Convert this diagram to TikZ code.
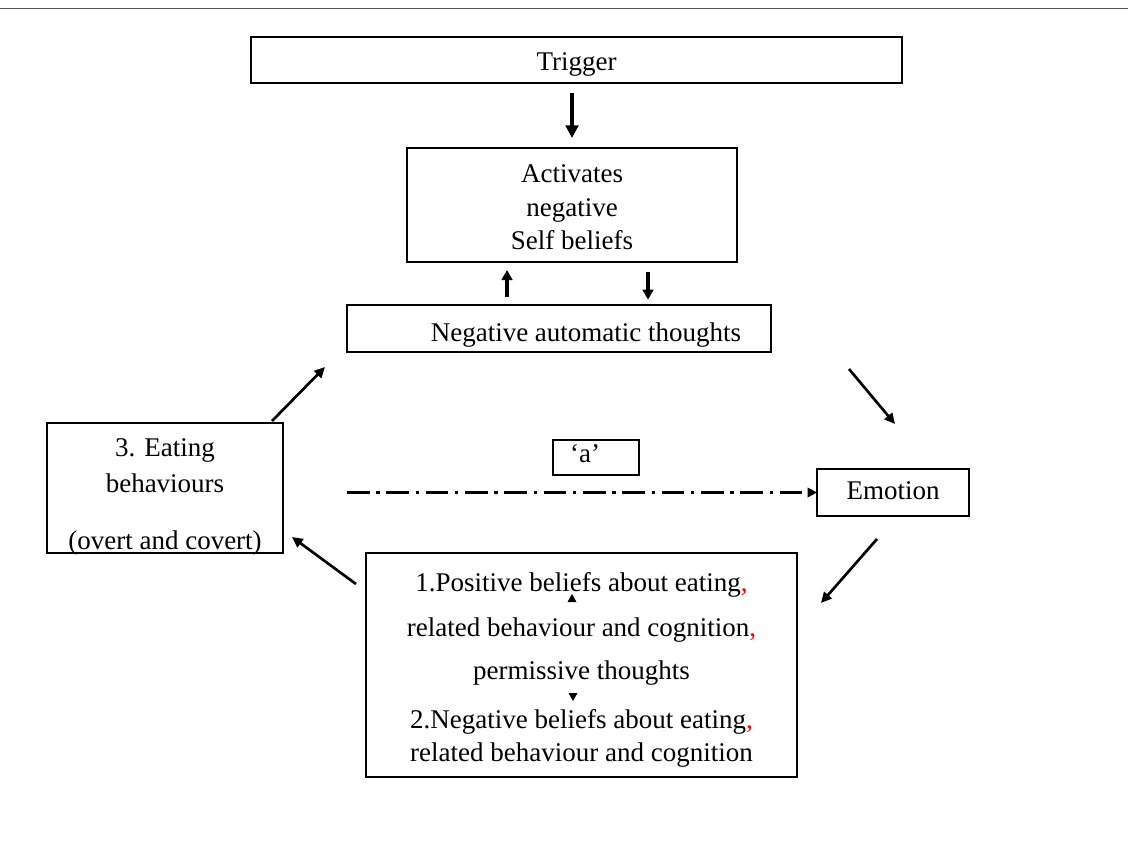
\documentclass[tikz,border=0pt]{standalone}
\usepackage{fontspec}
\setmainfont{Liberation Serif}
\usetikzlibrary{arrows.meta,calc}

% lines of a box, set lower by #1 without changing the box size
\newcommand\boxlines[2]{\raisebox{-#1}[\height][\depth]{\begin{tabular}{@{}c@{}}#2\end{tabular}}}

\begin{document}
\begin{tikzpicture}[x=0.75pt,y=0.75pt,yscale=-1,xscale=1,
  box/.style={draw,line width=0.9pt,inner sep=0pt,outer sep=0pt,
    font=\fontsize{20.25pt}{25pt}\selectfont},
  bigarr/.style={line width=2.6pt,-{Triangle[length=9.5pt,width=9.5pt]}},
  midarr/.style={line width=2.4pt,-{Triangle[length=7.5pt,width=8pt]}},
  diagarr/.style={line width=2pt,-{Triangle[length=8pt,width=7.5pt]}},
  dashdotarr/.style={line width=2.6pt,dash pattern={on 17pt off 5pt on 2.5pt off 5pt},
    -{Triangle[length=7pt,width=7pt]}}]
\useasboundingbox (0,0) rectangle (1128,851);

%Straight Lines: top rule
\draw [color={rgb,255:red,85;green,85;blue,85},line width=1.4pt] (0,8.5) -- (1128,8.5) ;

% Text Node
\node (trig) at (576.5,60) [box,minimum width=488.25pt,minimum height=34.5pt] {\boxlines{2.5pt}{Trigger}};
% Text Node
\node (act) at (572,205) [box,minimum width=247.5pt,minimum height=85.5pt] {\boxlines{3.4pt}{Activates\\negative\\Self beliefs}};
% Text Node
\node (nat) at (559,328.5) [box,minimum width=318pt,minimum height=35.25pt] {\boxlines{4.5pt}{\hspace*{40.5pt}Negative automatic thoughts}};
% Text Node
\node (eat) at (165,488) [box,minimum width=177pt,minimum height=97.5pt] {\boxlines{6pt}{3. Eating\\[2pt]behaviours\\[18pt](overt and covert)}};
% Text Node
\node (emo) at (893,492.5) [box,minimum width=114pt,minimum height=35.25pt] {\boxlines{0.5pt}{Emotion}};
% Text Node
\node (qa) at (596,457.5) [box,minimum width=64.5pt,minimum height=26.25pt] {\boxlines{-1.2pt}{`a'\hspace*{16.5pt}}};
% Text Node
\node (pos) at (581.5,665) [box,minimum width=323.25pt,minimum height=168pt] {\boxlines{3.75pt}{1.Positive beliefs about eating\textcolor{red}{,}\\[8.5pt]related behaviour and cognition\textcolor{red}{,}\\[7pt]permissive thoughts\\[12pt]2.Negative beliefs about eating\textcolor{red}{,}\\related behaviour and cognition}};

%Straight Lines: trigger to beliefs
\draw [bigarr,shorten <=7.5pt,shorten >=7.5pt] (act.north |- trig.south) -- (act.north) ;
%Straight Lines: beliefs and thoughts
\coordinate (up) at ($(act.south)+(-65,0)$);
\coordinate (dn) at ($(act.south)+(76,0)$);
\draw [midarr,shorten <=6pt,shorten >=6pt] (up |- nat.north) -- (up) ;
\draw [midarr,shorten <=7.5pt,shorten >=4pt] (dn) -- (dn |- nat.north) ;

%Straight Lines: the cycle
\draw [diagarr] ($(nat.south east)+(78,17)$) -- ($(emo.north)+(2,-45)$) ;
\draw [diagarr] ($(emo.south)+(-16,23)$) -- ($(pos.north east)+(24,50)$) ;
\draw [diagarr] ($(pos.north west)+(-10,31)$) -- ($(eat.south east)+(9,-16)$) ;
\draw [diagarr] ($(eat.north east)+(-11,-2)$) -- ($(nat.south west)+(-22,15)$) ;

%Straight Lines: route 'a'
\draw [dashdotarr] (nat.west |- emo.west) -- (emo.west) ;

%Shape: Triangle marks inside box
\fill ($(pos.north)+(-9.5,41)$) -- ++(-4.5,8) -- ++(9,0) -- cycle ;
\fill ($(pos.north)+(-8.5,148)$) -- ++(-4.5,-8) -- ++(9,0) -- cycle ;

\end{tikzpicture}
\end{document}
